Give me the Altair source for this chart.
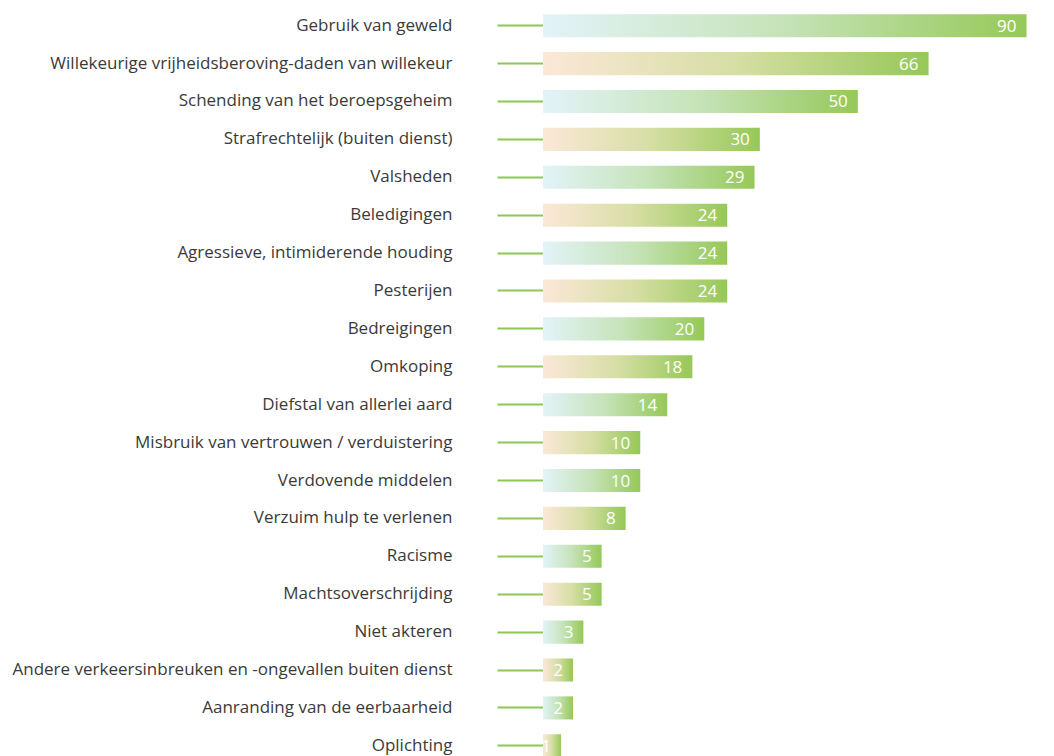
import altair as alt
import pandas as pd

categories = [
    "Gebruik van geweld",
    "Willekeurige vrijheidsberoving-daden van willekeur",
    "Schending van het beroepsgeheim",
    "Strafrechtelijk (buiten dienst)",
    "Valsheden",
    "Beledigingen",
    "Agressieve, intimiderende houding",
    "Pesterijen",
    "Bedreigingen",
    "Omkoping",
    "Diefstal van allerlei aard",
    "Misbruik van vertrouwen / verduistering",
    "Verdovende middelen",
    "Verzuim hulp te verlenen",
    "Racisme",
    "Machtsoverschrijding",
    "Niet akteren",
    "Andere verkeersinbreuken en -ongevallen buiten dienst",
    "Aanranding van de eerbaarheid",
    "Oplichting",
]
values = [90, 66, 50, 30, 29, 24, 24, 24, 20, 18, 14, 10, 10, 8, 5, 5, 3, 2, 2, 1]

df = pd.DataFrame({"cat": categories, "val": values, "idx": list(range(len(values)))})

FONT = "Open Sans"
GREEN = "#8cc853"

grad_blue = alt.LinearGradient(
    gradient="linear",
    stops=[
        alt.GradientStop(color="#e3f3f8", offset=0),
        alt.GradientStop(color="#c5e3b8", offset=0.5),
        alt.GradientStop(color="#96c858", offset=1),
    ],
    x1=0, x2=1, y1=0, y2=0,
)
grad_beige = alt.LinearGradient(
    gradient="linear",
    stops=[
        alt.GradientStop(color="#fbe8d8", offset=0),
        alt.GradientStop(color="#d6dea4", offset=0.5),
        alt.GradientStop(color="#96c858", offset=1),
    ],
    x1=0, x2=1, y1=0, y2=0,
)

y_enc = alt.Y(
    "cat:N",
    sort=categories,
    scale=alt.Scale(range=[0, 755.5], paddingInner=0.39, paddingOuter=0.162),
    axis=alt.Axis(
        title=None,
        domain=False,
        ticks=True,
        tickSize=46,
        tickColor=GREEN,
        tickWidth=2,
        labelPadding=45,
        labelFontSize=17,
        labelFont=FONT,
        labelColor="#3a3a3a",
        labelLimit=700,
        grid=False,
    ),
)
x_enc = alt.X(
    "val:Q",
    scale=alt.Scale(type="pow", exponent=0.73, domain=[0, 95], clamp=True),
    axis=None,
)

base = alt.Chart(df).encode(y=y_enc, x=x_enc)

bars_blue = base.transform_filter("datum.idx % 2 == 0").mark_bar(color=grad_blue, strokeWidth=0)
bars_beige = base.transform_filter("datum.idx % 2 == 1").mark_bar(color=grad_beige, strokeWidth=0)
labels = base.mark_text(
    align="right", baseline="middle", dx=-10, dy=1, color="white", fontSize=17, font=FONT
).encode(text="val:Q")

chart = (
    alt.layer(bars_blue, bars_beige, labels)
    .properties(
        width=503,
        height=748,
        autosize=alt.AutoSizeParams(type="none"),
        padding={"left": 535, "top": 0, "right": 0, "bottom": 0},
    )
    .configure_view(stroke=None)
)

chart.save("out.html", embed_options={"renderer": "svg", "actions": False})
